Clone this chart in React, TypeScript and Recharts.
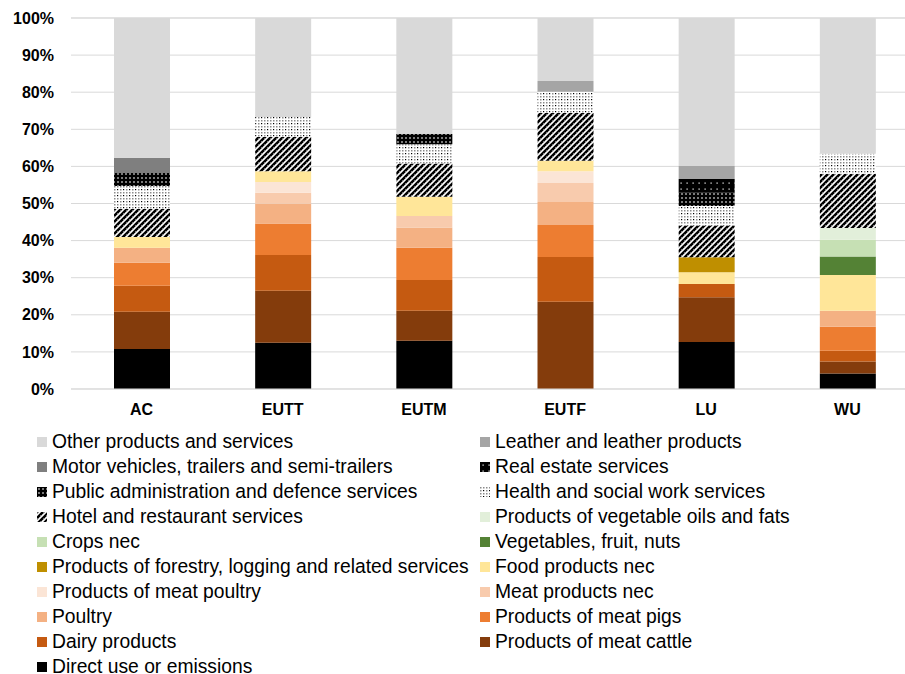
import React from 'react';
import { BarChart, Bar, XAxis, YAxis, CartesianGrid } from 'recharts';

const categories = ['AC', 'EUTT', 'EUTM', 'EUTF', 'LU', 'WU'];
const yTicks = [0, 10, 20, 30, 40, 50, 60, 70, 80, 90, 100];

const directUse = [10.8, 12.5, 13.0, 0, 12.7, 4.2];
const meatCattle = [10.0, 14.0, 8.1, 23.5, 12.0, 3.2];
const dairy = [7.0, 9.6, 8.3, 12.1, 3.6, 2.9];
const meatPigs = [6.2, 8.5, 8.7, 8.6, 0, 6.5];
const poultry = [4.1, 5.3, 5.4, 6.2, 0, 4.3];
const meatNec = [0, 3.0, 3.1, 5.1, 0, 0];
const meatPoultry = [0, 2.9, 0, 3.2, 0, 0];
const foodNec = [2.9, 2.9, 5.2, 2.8, 3.2, 9.6];
const forestry = [0, 0, 0, 0, 4.0, 0];
const vegetables = [0, 0, 0, 0, 0, 5.0];
const crops = [0, 0, 0, 0, 0, 4.5];
const vegOils = [0, 0, 0, 0, 0, 3.2];
const hotel = [7.5, 9.2, 9.0, 12.9, 8.6, 14.6];
const health = [6.2, 5.4, 5.2, 5.7, 5.2, 5.4];
const publicAdmin = [3.5, 0, 2.7, 0, 3.6, 0];
const realEstate = [0, 0, 0, 0, 3.7, 0];
const motor = [4.1, 0, 0, 0, 0, 0];
const leather = [0, 0, 0, 2.9, 3.5, 0];
const other = [37.7, 26.7, 31.3, 17.0, 39.9, 36.6];

// stacking order bottom -> top
const series = [
  { key: 'directUse', name: 'Direct use or emissions', values: directUse, fill: '#000000' },
  { key: 'meatCattle', name: 'Products of meat cattle', values: meatCattle, fill: '#843C0C' },
  { key: 'dairy', name: 'Dairy products', values: dairy, fill: '#C55A11' },
  { key: 'meatPigs', name: 'Products of meat pigs', values: meatPigs, fill: '#ED7D31' },
  { key: 'poultry', name: 'Poultry', values: poultry, fill: '#F4B183' },
  { key: 'meatNec', name: 'Meat products nec', values: meatNec, fill: '#F8CBAD' },
  { key: 'meatPoultry', name: 'Products of meat poultry', values: meatPoultry, fill: '#FBE5D6' },
  { key: 'foodNec', name: 'Food products nec', values: foodNec, fill: '#FFE699' },
  { key: 'forestry', name: 'Products of forestry, logging and related services', values: forestry, fill: '#BF8F00' },
  { key: 'vegetables', name: 'Vegetables, fruit, nuts', values: vegetables, fill: '#548235' },
  { key: 'crops', name: 'Crops nec', values: crops, fill: '#C6E0B4' },
  { key: 'vegOils', name: 'Products of vegetable oils and fats', values: vegOils, fill: '#E2EFDA' },
  { key: 'hotel', name: 'Hotel and restaurant services', values: hotel, fill: 'url(#patHotel)' },
  { key: 'health', name: 'Health and social work services', values: health, fill: 'url(#patHealth)' },
  { key: 'publicAdmin', name: 'Public administration and defence services', values: publicAdmin, fill: 'url(#patPublic)' },
  { key: 'realEstate', name: 'Real estate services', values: realEstate, fill: 'url(#patReal)' },
  { key: 'motor', name: 'Motor vehicles, trailers and semi-trailers', values: motor, fill: '#7F7F7F' },
  { key: 'leather', name: 'Leather and leather products', values: leather, fill: '#A5A5A5' },
  { key: 'other', name: 'Other products and services', values: other, fill: '#D9D9D9' },
];

const data = categories.map((c, i) => {
  const row: Record<string, any> = { category: c };
  series.forEach((s) => {
    row[s.key] = s.values[i];
  });
  return row;
});

const legendOrder = [...series].reverse();

const FONT = 'Arial, "Liberation Sans", sans-serif';

function Patterns() {
  return (
    <defs>
      <pattern id="patHotel" width="6" height="6" patternUnits="userSpaceOnUse">
        <rect width="6" height="6" fill="#ffffff" />
        <path d="M0,6 L6,0 M-1.5,1.5 L1.5,-1.5 M4.5,7.5 L7.5,4.5" stroke="#000" strokeWidth="2.6" />
        <rect x="0" y="0" width="1.2" height="1.2" fill="#666" />
        <rect x="3" y="3" width="1.2" height="1.2" fill="#777" />
      </pattern>
      <pattern id="patHealth" width="6" height="6" patternUnits="userSpaceOnUse">
        <rect width="6" height="6" fill="#ffffff" />
        <rect x="0" y="0" width="1.5" height="1.5" fill="#8c8c8c" />
        <rect x="3" y="0" width="1.5" height="1.5" fill="#8c8c8c" />
        <rect x="0" y="3" width="1.5" height="1.5" fill="#8c8c8c" />
        <rect x="3" y="3" width="1.2" height="1.2" fill="#000" />
      </pattern>
      <pattern id="patPublic" width="4" height="4" patternUnits="userSpaceOnUse">
        <rect width="4" height="4" fill="#000000" />
        <rect x="1" y="1" width="2" height="2" fill="#7a7a7a" />
      </pattern>
      <pattern id="patReal" width="6" height="6" patternUnits="userSpaceOnUse">
        <rect width="6" height="6" fill="#000000" />
        <rect x="2.5" y="2.5" width="1.2" height="1.2" fill="#ffffff" />
      </pattern>
    </defs>
  );
}

function LegendItem({ name, fill, left, centerY }: { name: string; fill: string; left: number; centerY: number }) {
  return (
    <div
      style={{
        position: 'absolute',
        left,
        top: centerY - 6,
        height: 12,
        display: 'flex',
        alignItems: 'center',
        whiteSpace: 'nowrap',
        fontSize: 19.3,
        lineHeight: '12px',
        color: '#000',
        fontFamily: FONT,
      }}
    >
      <svg width={10} height={10} style={{ marginRight: 5, flex: 'none' }}>
        <rect width={10} height={10} fill={fill} />
      </svg>
      <span>{name}</span>
    </div>
  );
}

export default function App() {
  return (
    <div
      style={{
        position: 'absolute',
        left: 0,
        top: 0,
        width: 905,
        height: 674,
        overflow: 'hidden',
        background: '#fff',
        fontFamily: FONT,
      }}
    >
      <BarChart
        width={918}
        height={419}
        data={data}
        margin={{ top: 18, right: 0, left: 0, bottom: 0 }}
        style={{ fontFamily: FONT }}
      >
        <Patterns />
        <CartesianGrid vertical={false} stroke="#D9D9D9" strokeWidth={1} />
        <XAxis
          dataKey="category"
          height={30}
          tickLine={false}
          axisLine={{ stroke: '#D9D9D9' }}
          tickSize={0}
          tickMargin={15}
          tick={{ fill: '#000', fontSize: 16, fontWeight: 'bold', fontFamily: FONT }}
        />
        <YAxis
          width={71}
          domain={[0, 100]}
          ticks={yTicks}
          tickFormatter={(v: number) => `${v}%`}
          axisLine={false}
          tickLine={false}
          tickSize={0}
          tickMargin={17}
          interval={0}
          tick={{ fill: '#000', fontSize: 16, fontWeight: 'bold', fontFamily: FONT }}
        />
        {series.map((s) => (
          <Bar
            key={s.key}
            dataKey={s.key}
            name={s.name}
            stackId="a"
            fill={s.fill}
            barSize={56}
            isAnimationActive={false}
          />
        ))}
      </BarChart>
      {legendOrder.map((s, i) => (
        <LegendItem
          key={s.key}
          name={s.name}
          fill={s.fill}
          left={i % 2 === 0 ? 37 : 480}
          centerY={441.5 + Math.floor(i / 2) * 25.1}
        />
      ))}
    </div>
  );
}
